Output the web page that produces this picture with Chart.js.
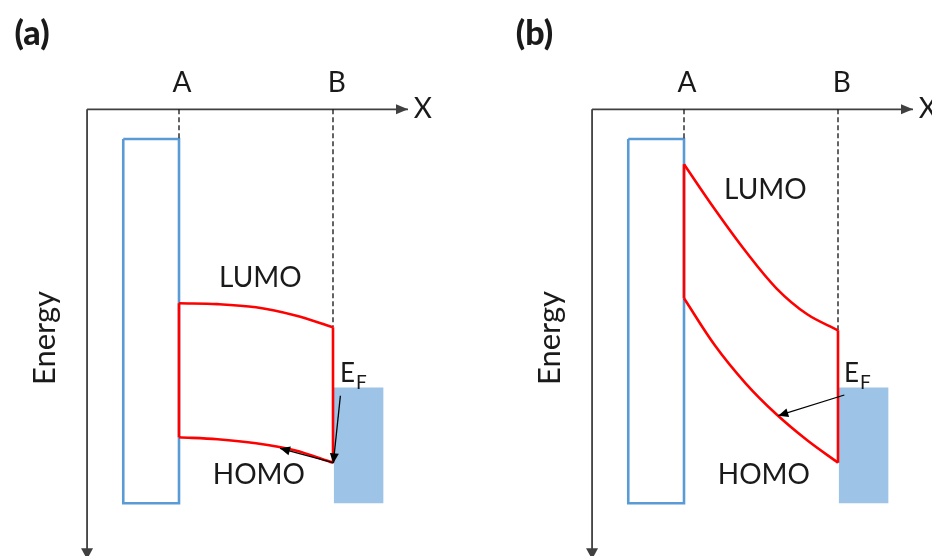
<!DOCTYPE html>
<html>
<head>
<meta charset="utf-8">
<script src="https://cdn.jsdelivr.net/npm/chart.js@4.4.0/dist/chart.umd.min.js"></script>
<style>
    html, body { margin: 0; padding: 0; background: #fff; }
    #wrap { position: relative; width: 932px; height: 556px; overflow: hidden; }
    #wrap canvas { position: absolute; top: 0; }
    #panel_a { left: 0; }
    #panel_b { left: 505px; }
</style>
</head>
<body>
<div id="wrap">
    <canvas id="panel_a" width="466" height="556"></canvas>
    <canvas id="panel_b" width="427" height="556"></canvas>
</div>
<script type="text/javascript">
    // position across the film: A = 0, B = 1 ; energy in axis units, growing downward
    var posA  = [0, 0.25, 0.5, 0.75, 1];
    var lumoA = [1.94, 1.948, 1.98, 2.06, 2.18];
    var homoA = [3.28, 3.30, 3.34, 3.41, 3.534];

    var posB  = [0, 0.2, 0.4, 0.6, 0.8, 1];
    var lumoB = [0.55, 1.0, 1.42, 1.79, 2.05, 2.21];
    var homoB = [1.89, 2.36, 2.74, 3.05, 3.31, 3.534];

    // electrode at A (outline) and metal at B (filled): [left, right], [top, bottom]
    var electrodeX = [-0.362, 0];
    var electrodeE = [0.297, 3.94];
    var metalX = [1.006, 1.327];
    var metalE = [2.782, 3.94];

    // axes: origin and arrow tips
    var axisOrigin = [-0.597, 0];
    var axisEnd = [1.487, 4.50];

    // charge transfer arrows [x0, e0, x1, e1]
    var transferA = [[1.048, 2.864, 1.002, 3.54], [1.0, 3.534, 0.656, 3.39]];
    var transferB = [[1.041, 2.857, 0.612, 3.064]];

    var siteLabels = ["A", "B"];
    var levelLabels = ["LUMO", "HOMO"];
    var axisLabels = ["X", "Energy"];
    var panelTags = ["(a)", "(b)"];
    var fermiLabel = ["E", "F"];

    var RED = "#ff0000", BLUE = "#5b9bd5", FILL = "#9dc3e6", AXIS = "#404040", INK = "#1a1a1a";
    var A_PX = 179, PX_PER_X = 154, AXIS_PX = 109.3, PX_PER_E = 100;

    function pts(xs, es) {
        return xs.map(function (x, i) { return {x: x, y: es[i]}; });
    }
    function seg(x0, e0, x1, e1) {
        return [{x: x0, y: e0}, {x: x1, y: e1}];
    }
    function box(xs, es) {
        return [{x: xs[0], y: es[0]}, {x: xs[1], y: es[0]}, {x: xs[1], y: es[1]},
                {x: xs[0], y: es[1]}, {x: xs[0], y: es[0]}];
    }
    function line(data, color, width, extra) {
        var ds = {
            data: data, showLine: true, fill: false,
            borderColor: color, borderWidth: width,
            borderJoinStyle: "miter", pointRadius: 0, tension: 0
        };
        for (var k in extra) ds[k] = extra[k];
        return ds;
    }

    var sketchPlugin = {
        id: "sketch",
        afterDatasetsDraw: function (chart, args, opts) {
            var ctx = chart.ctx, sx = chart.scales.x, sy = chart.scales.y;
            ctx.save();
            chart.data.datasets.forEach(function (ds) {
                if (!ds.arrow) return;
                var n = ds.data.length;
                var x0 = sx.getPixelForValue(ds.data[n - 2].x), y0 = sy.getPixelForValue(ds.data[n - 2].y);
                var x1 = sx.getPixelForValue(ds.data[n - 1].x), y1 = sy.getPixelForValue(ds.data[n - 1].y);
                var a = Math.atan2(y1 - y0, x1 - x0), len = ds.arrow[0], half = ds.arrow[1];
                var bx = x1 - len * Math.cos(a), by = y1 - len * Math.sin(a);
                ctx.fillStyle = ds.borderColor;
                ctx.beginPath();
                ctx.moveTo(x1, y1);
                ctx.lineTo(bx + half * Math.sin(a), by - half * Math.cos(a));
                ctx.lineTo(bx - half * Math.sin(a), by + half * Math.cos(a));
                ctx.closePath();
                ctx.fill();
            });
            ctx.fillStyle = INK;
            ctx.textBaseline = "alphabetic";
            opts.labels.forEach(function (l) {
                var px = sx.getPixelForValue(l.x), py = sy.getPixelForValue(l.y);
                ctx.font = l.font;
                if (l.rot) {
                    ctx.save();
                    ctx.translate(px, py);
                    ctx.rotate(-Math.PI / 2);
                    ctx.textAlign = "center";
                    ctx.fillText(l.t, 0, 0);
                    ctx.restore();
                } else if (l.sub) {
                    ctx.textAlign = "left";
                    ctx.fillText(l.t, px, py);
                    var w = ctx.measureText(l.t).width;
                    ctx.font = l.subFont;
                    ctx.fillText(l.sub, px + w + 1, py + 7.6);
                } else {
                    ctx.textAlign = "center";
                    ctx.fillText(l.t, px, py);
                }
            });
            ctx.restore();
        }
    };

    function createPanel(id, pos, lumo, homo, transfer, labels) {
        var canvas = document.getElementById(id);
        var n = pos.length - 1;
        var datasets = [];
        transfer.forEach(function (a) {
            datasets.push(line(seg(a[0], a[1], a[2], a[3]), "#000", 1.3, {arrow: [10, 4.5]}));
        });
        datasets.push(line(pts(pos, lumo), RED, 2.6, {tension: 0.35}));
        datasets.push(line(pts(pos, homo), RED, 2.6, {tension: 0.35}));
        datasets.push(line(seg(pos[0], lumo[0], pos[0], homo[0]), RED, 2.6));
        datasets.push(line(seg(pos[n], lumo[n], pos[n], homo[n]), RED, 2.6));
        datasets.push(line(seg(0, 0, 0, electrodeE[0]), "#111", 1.3, {borderDash: [5, 3]}));
        datasets.push(line(seg(1, 0, 1, lumo[n]), "#111", 1.3, {borderDash: [5, 3]}));
        datasets.push(line(box(electrodeX, electrodeE), BLUE, 2.6));
        datasets.push(line(seg(axisOrigin[0], axisOrigin[1], axisEnd[0], axisOrigin[1]), AXIS, 1.8, {arrow: [12, 5]}));
        datasets.push(line(seg(axisOrigin[0], axisOrigin[1], axisOrigin[0], axisEnd[1]), AXIS, 1.8, {arrow: [11, 6]}));
        datasets.push(line(box(metalX, metalE), FILL, 0, {fill: "shape", backgroundColor: FILL}));

        return new Chart(canvas.getContext("2d"), {
            type: "scatter",
            data: {datasets: datasets},
            plugins: [sketchPlugin],
            options: {
                responsive: false,
                animation: false,
                events: [],
                layout: {padding: 0},
                scales: {
                    x: {type: "linear", display: false,
                        min: -A_PX / PX_PER_X, max: (canvas.width - A_PX) / PX_PER_X},
                    y: {type: "linear", display: false, reverse: true,
                        min: -AXIS_PX / PX_PER_E, max: (canvas.height - AXIS_PX) / PX_PER_E}
                },
                plugins: {
                    legend: {display: false},
                    tooltip: {enabled: false},
                    sketch: {labels: labels}
                }
            }
        });
    }

    function panelLabels(tag, tagX, lumoLabelE, fermiX) {
        return [
            {t: tag, x: tagX, y: -0.643, font: "900 34px Lato"},
            {t: siteLabels[0], x: 0.02, y: -0.173, font: "28px Lato"},
            {t: siteLabels[1], x: 1.024, y: -0.173, font: "28px Lato"},
            {t: axisLabels[0], x: 1.584, y: 0.09, font: "28px Lato"},
            {t: axisLabels[1], x: -0.803, y: 2.287, font: "31px Lato", rot: true},
            {t: levelLabels[0], x: 0.528, y: lumoLabelE, font: "28px Lato"},
            {t: levelLabels[1], x: 0.519, y: 3.747, font: "28px Lato"},
            {t: fermiLabel[0], sub: fermiLabel[1], x: fermiX, y: 2.724, font: "26px Lato", subFont: "19px Lato"}
        ];
    }

    createPanel("panel_a", posA, lumoA, homoA, transferA, panelLabels(panelTags[0], -0.954, 1.779, 1.045));
    createPanel("panel_b", posB, lumoB, homoB, transferB, panelLabels(panelTags[1], -0.971, 0.897, 1.039));
</script>
</body>
</html>
